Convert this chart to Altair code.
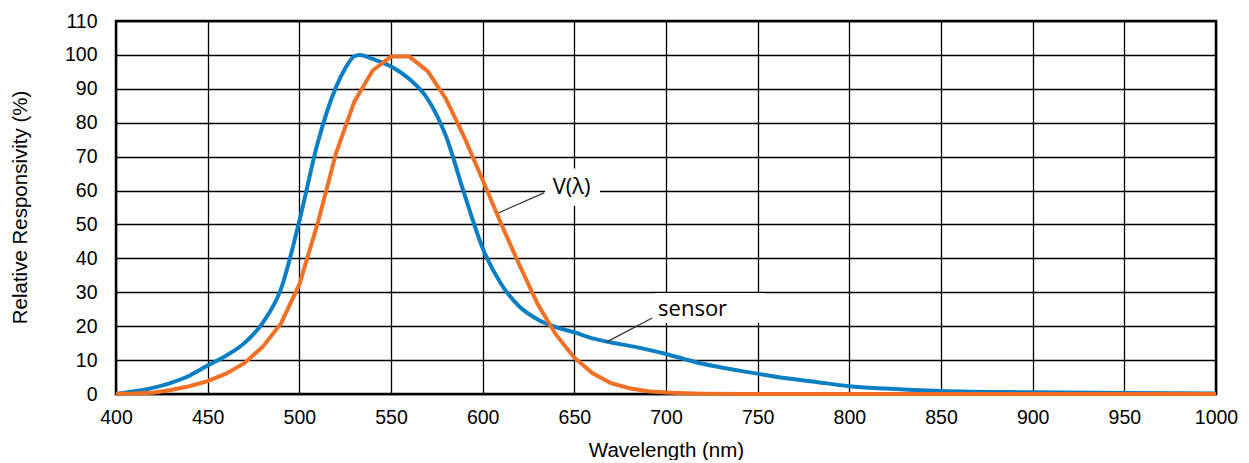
import altair as alt
import pandas as pd

# V(lambda) curve (orange)
v_nm = [400, 410, 420, 430, 440, 450, 460, 470, 480, 490, 500, 510, 520, 530, 540,
        550, 560, 570, 580, 590, 600, 610, 620, 630, 640, 650, 660, 670, 680, 690,
        700, 710, 720, 740, 760, 800, 850, 900, 950, 1000]
v_val = [0.04, 0.12, 0.4, 1.16, 2.3, 3.8, 6.0, 9.1, 13.9, 20.8, 32.3, 50.3, 71.0, 86.2, 95.4,
         99.5, 99.5, 95.2, 87.0, 75.7, 63.1, 50.3, 38.1, 26.5, 17.5, 10.7, 6.1, 3.2, 1.7, 0.82,
         0.41, 0.21, 0.1, 0.03, 0.01, 0.0, 0.0, 0.0, 0.0, 0.0]

# sensor curve (blue)
s_nm = [400, 410, 420, 430, 440, 450, 460, 470, 480, 490, 500, 510, 520, 525, 530, 533,
        540, 550, 560, 570, 580, 590, 600, 610, 620, 630, 640, 650, 660, 670, 680, 690,
        700, 710, 720, 740, 760, 780, 800, 820, 850, 900, 950, 1000]
s_val = [0.0, 0.8, 1.8, 3.3, 5.4, 8.4, 11.3, 15.0, 21.0, 31.0, 51.0, 74.0, 90.5, 96.0, 99.6, 100.0,
         98.8, 96.6, 92.9, 87.0, 76.0, 59.0, 43.0, 32.5, 25.8, 22.0, 19.7, 18.2, 16.4, 15.2, 14.2, 13.1,
         11.8, 10.3, 8.9, 6.9, 5.1, 3.7, 2.3, 1.6, 0.9, 0.5, 0.3, 0.15]

x_ticks = list(range(400, 1001, 50))
y_ticks = list(range(0, 111, 10))

# annotations
ann_text = ["V(λ)", "sensor"]
ann_x = [648.5, 714.5]
ann_y = [61.0, 25.0]
box_x1 = [634.0, 694.0]
box_x2 = [664.0, 754.0]
box_y1 = [55.5, 21.0]
box_y2 = [66.5, 29.8]
lead_x1 = [608.5, 667.5]
lead_y1 = [53.4, 15.3]
lead_x2 = [633.5, 692.5]
lead_y2 = [59.3, 22.4]

df_v = pd.DataFrame({"nm": v_nm, "val": v_val})
df_s = pd.DataFrame({"nm": s_nm, "val": s_val})
df_ann = pd.DataFrame({"t": ann_text, "x": ann_x, "y": ann_y,
                       "bx1": box_x1, "bx2": box_x2, "by1": box_y1, "by2": box_y2,
                       "lx1": lead_x1, "ly1": lead_y1, "lx2": lead_x2, "ly2": lead_y2})

FONT = "Liberation Sans"

xscale = alt.Scale(domain=[400, 1000], nice=False, zero=False)
yscale = alt.Scale(domain=[0, 110], nice=False, zero=True)

xaxis = alt.Axis(values=x_ticks, format="d", title="Wavelength (nm)", grid=True, gridColor="black",
                 gridWidth=1.3, gridOpacity=1, ticks=False, tickSize=0, domain=False,
                 labelFont=FONT, labelFontSize=19.5, labelColor="black", labelPadding=14,
                 labelFlush=False, labelOverlap=False,
                 titleFont=FONT, titleFontSize=20.5, titleFontWeight="normal", titleColor="black",
                 titleY=56, titleBaseline="middle")
yaxis = alt.Axis(values=y_ticks, tickCount=12, format="d", title="Relative Responsivity (%)", grid=True,
                 gridColor="black", gridWidth=1.3, gridOpacity=1, ticks=False, tickSize=0, domain=False,
                 labelFont=FONT, labelFontSize=19.5, labelColor="black", labelPadding=19,
                 labelFlush=False, labelOverlap=False,
                 titleFont=FONT, titleFontSize=20.5, titleFontWeight="normal", titleColor="black",
                 titleX=-96, titleY=186, titleAngle=-90, titleBaseline="middle", titleAlign="center")

blue = alt.Chart(df_s).mark_line(color="#0b7ec4", strokeWidth=4, interpolate="monotone").encode(
    x=alt.X("nm:Q", scale=xscale, axis=xaxis),
    y=alt.Y("val:Q", scale=yscale, axis=yaxis),
)
orange = alt.Chart(df_v).mark_line(color="#f07125", strokeWidth=4).encode(
    x=alt.X("nm:Q", scale=xscale, axis=xaxis),
    y=alt.Y("val:Q", scale=yscale, axis=yaxis),
)
boxes = alt.Chart(df_ann).mark_rect(color="white").encode(
    x=alt.X("bx1:Q", scale=xscale, axis=xaxis), x2="bx2:Q",
    y=alt.Y("by1:Q", scale=yscale, axis=yaxis), y2="by2:Q",
)
leads = alt.Chart(df_ann).mark_rule(color="#333333", strokeWidth=1.2).encode(
    x=alt.X("lx1:Q", scale=xscale, axis=xaxis), x2="lx2:Q",
    y=alt.Y("ly1:Q", scale=yscale, axis=yaxis), y2="ly2:Q",
)
texts = alt.Chart(df_ann).mark_text(font="Open Sans", fontSize=22, color="black",
                                    align="center", baseline="middle").encode(
    x=alt.X("x:Q", scale=xscale, axis=xaxis),
    y=alt.Y("y:Q", scale=yscale, axis=yaxis),
    text="t:N",
)

chart = alt.layer(blue, orange, boxes, leads, texts).properties(
    width=1100, height=373,
    autosize=alt.AutoSizeParams(type="none"),
    padding={"left": 108, "top": 13, "right": 25, "bottom": 66},
    background="white",
).configure_view(stroke="black", strokeWidth=2.5)

chart.save("out.html", embed_options={"renderer": "svg", "actions": False})
